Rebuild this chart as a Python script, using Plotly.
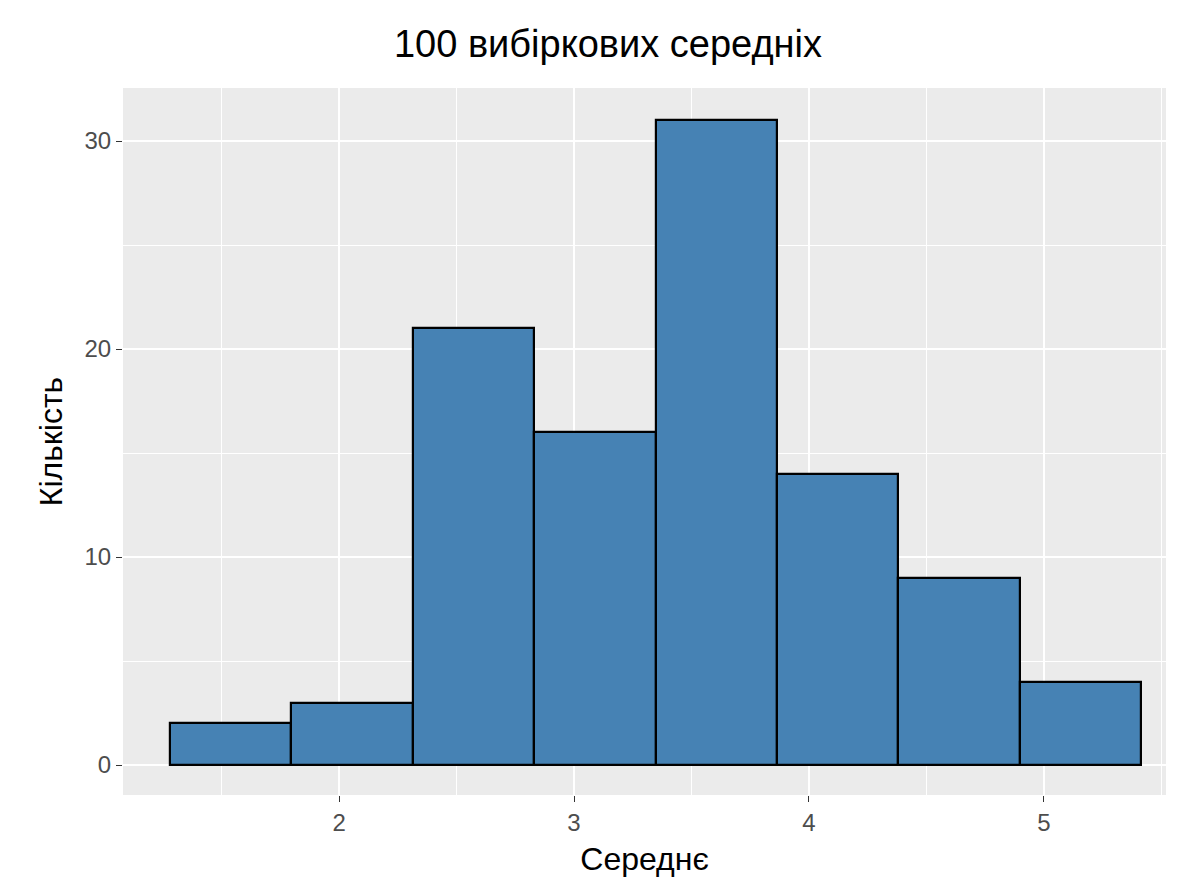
import plotly.graph_objects as go

bin_edges = [1.28, 1.797, 2.313, 2.83, 3.347, 3.863, 4.38, 4.897, 5.413]
counts = [2, 3, 21, 16, 31, 14, 9, 4]
x_ticks = [2, 3, 4, 5]
y_ticks = [0, 10, 20, 30]

centers = [(bin_edges[i] + bin_edges[i+1]) / 2 for i in range(len(counts))]
widths = [bin_edges[i+1] - bin_edges[i] for i in range(len(counts))]

fig = go.Figure(go.Bar(x=centers, y=counts, width=widths,
                       marker=dict(color="#4682B4", line=dict(color="black", width=2.2))))
fig.update_layout(
    width=1200, height=896, paper_bgcolor="white", plot_bgcolor="#EBEBEB",
    margin=dict(l=115, r=42, t=80, b=109),
    font=dict(family="Liberation Sans, Arial", color="black"),
    title=dict(text="100 вибіркових середніх", x=0.5, xanchor="center", y=0.96, yanchor="middle",
               font=dict(size=38)),
    showlegend=False, bargap=0,
)
fig.update_xaxes(range=[1.08, 5.52], tickvals=x_ticks, ticks="outside", ticklen=6, tickcolor="#333333",
                 tickfont=dict(size=24, color="#4D4D4D"), gridcolor="white", gridwidth=2.4, zeroline=False,
                 minor=dict(tick0=1.5, dtick=1, showgrid=True, gridcolor="white", gridwidth=1.2),
                 title=dict(text="Середнє", font=dict(size=32), standoff=12))
fig.update_yaxes(range=[-1.44, 32.55], tickvals=y_ticks, ticks="outside", ticklen=6, tickcolor="#333333",
                 tickfont=dict(size=24, color="#4D4D4D"), gridcolor="white", gridwidth=2.4, zeroline=False,
                 minor=dict(tick0=5, dtick=10, showgrid=True, gridcolor="white", gridwidth=1.2),
                 title=dict(text="Кількість", font=dict(size=32), standoff=12))
fig.write_html("out.html")
